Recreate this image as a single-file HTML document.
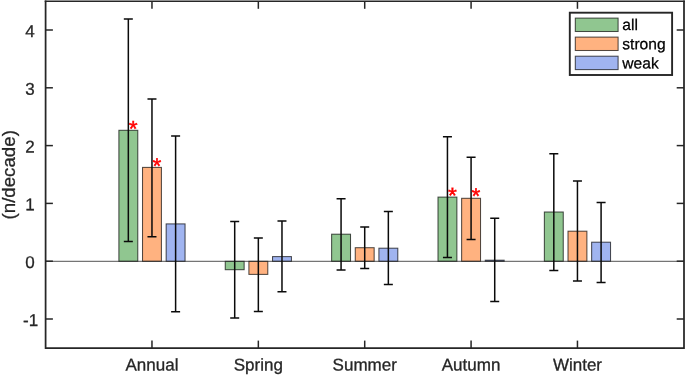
<!DOCTYPE html>
<html><head><meta charset="utf-8"><title>chart</title>
<style>
html,body{margin:0;padding:0;background:#fff;}
body{width:685px;height:375px;overflow:hidden;}
svg{display:block;}
text{font-family:"Liberation Sans","Helvetica","Arial",sans-serif;fill:#262626;}
</style></head><body>
<svg width="685" height="375" viewBox="0 0 685 375">
<rect x="0" y="0" width="685" height="375" fill="#ffffff"/>
<g stroke="#000" stroke-opacity="0.68" stroke-width="1.05">
<rect x="118.88" y="130.30" width="18.90" height="131.00" fill="#90c690"/>
<rect x="142.52" y="167.40" width="18.90" height="93.90" fill="#ffb280"/>
<rect x="166.16" y="223.90" width="18.90" height="37.40" fill="#a0b4f0"/>
<rect x="225.25" y="261.30" width="18.90" height="8.40" fill="#90c690"/>
<rect x="248.89" y="261.30" width="18.90" height="13.10" fill="#ffb280"/>
<rect x="272.53" y="256.60" width="18.90" height="4.70" fill="#a0b4f0"/>
<rect x="331.62" y="234.20" width="18.90" height="27.10" fill="#90c690"/>
<rect x="355.26" y="247.70" width="18.90" height="13.60" fill="#ffb280"/>
<rect x="378.90" y="248.20" width="18.90" height="13.10" fill="#a0b4f0"/>
<rect x="437.99" y="197.10" width="18.90" height="64.20" fill="#90c690"/>
<rect x="461.63" y="198.30" width="18.90" height="63.00" fill="#ffb280"/>
<rect x="485.27" y="260.20" width="18.90" height="1.10" fill="#a0b4f0"/>
<rect x="544.36" y="212.00" width="18.90" height="49.30" fill="#90c690"/>
<rect x="568.00" y="231.20" width="18.90" height="30.10" fill="#ffb280"/>
<rect x="591.64" y="242.20" width="18.90" height="19.10" fill="#a0b4f0"/>
</g>
<line x1="45.6" y1="261.3" x2="684.0" y2="261.3" stroke="#262626" stroke-width="0.8"/>
<g stroke="#0a0a0a" stroke-width="1.5" fill="none">
<path d="M128.33 19.10V241.60M123.83 19.10H132.83M123.83 241.60H132.83"/>
<path d="M151.97 99.10V236.70M147.47 99.10H156.47M147.47 236.70H156.47"/>
<path d="M175.61 136.00V311.85M171.11 136.00H180.11M171.11 311.85H180.11"/>
<path d="M234.70 221.40V317.90M230.20 221.40H239.20M230.20 317.90H239.20"/>
<path d="M258.34 237.90V311.40M253.84 237.90H262.84M253.84 311.40H262.84"/>
<path d="M281.98 221.10V291.65M277.48 221.10H286.48M277.48 291.65H286.48"/>
<path d="M341.07 198.80V269.90M336.57 198.80H345.57M336.57 269.90H345.57"/>
<path d="M364.71 227.05V268.40M360.21 227.05H369.21M360.21 268.40H369.21"/>
<path d="M388.35 211.40V284.50M383.85 211.40H392.85M383.85 284.50H392.85"/>
<path d="M447.44 136.70V257.50M442.94 136.70H451.94M442.94 257.50H451.94"/>
<path d="M471.08 157.20V239.50M466.58 157.20H475.58M466.58 239.50H475.58"/>
<path d="M494.72 218.30V301.60M490.22 218.30H499.22M490.22 301.60H499.22"/>
<path d="M553.81 153.80V270.50M549.31 153.80H558.31M549.31 270.50H558.31"/>
<path d="M577.45 180.90V281.05M572.95 180.90H581.95M572.95 281.05H581.95"/>
<path d="M601.09 202.50V282.50M596.59 202.50H605.59M596.59 282.50H605.59"/>
</g>
<text transform="translate(133.13,136.40) rotate(0.05)" text-anchor="middle" font-size="22.7" style="fill:#ff0000;stroke:#ff0000;stroke-width:0.45">*</text>
<text transform="translate(157.02,173.85) rotate(0.05)" text-anchor="middle" font-size="22.7" style="fill:#ff0000;stroke:#ff0000;stroke-width:0.45">*</text>
<text transform="translate(452.39,203.20) rotate(0.05)" text-anchor="middle" font-size="22.7" style="fill:#ff0000;stroke:#ff0000;stroke-width:0.45">*</text>
<text transform="translate(476.03,203.85) rotate(0.05)" text-anchor="middle" font-size="22.7" style="fill:#ff0000;stroke:#ff0000;stroke-width:0.45">*</text>
<path d="M45.6 0.3999999999999999V348.87M684.0 0.3999999999999999V348.87M44.730000000000004 348.0H684.87" fill="none" stroke="#262626" stroke-width="1.75"/>
<path d="M44.730000000000004 1.2H684.87" fill="none" stroke="#262626" stroke-width="1.6"/>
<g stroke="#262626" stroke-width="1.5">
<line x1="151.97" y1="348.0" x2="151.97" y2="340.6"/><line x1="151.97" y1="1.2" x2="151.97" y2="8.799999999999999"/>
<line x1="258.34" y1="348.0" x2="258.34" y2="340.6"/><line x1="258.34" y1="1.2" x2="258.34" y2="8.799999999999999"/>
<line x1="364.71" y1="348.0" x2="364.71" y2="340.6"/><line x1="364.71" y1="1.2" x2="364.71" y2="8.799999999999999"/>
<line x1="471.08" y1="348.0" x2="471.08" y2="340.6"/><line x1="471.08" y1="1.2" x2="471.08" y2="8.799999999999999"/>
<line x1="577.45" y1="348.0" x2="577.45" y2="340.6"/><line x1="577.45" y1="1.2" x2="577.45" y2="8.799999999999999"/>
<line x1="45.6" y1="319.00" x2="52.9" y2="319.00"/><line x1="684.0" y1="319.00" x2="676.7" y2="319.00"/>
<line x1="45.6" y1="261.20" x2="52.9" y2="261.20"/><line x1="684.0" y1="261.20" x2="676.7" y2="261.20"/>
<line x1="45.6" y1="203.40" x2="52.9" y2="203.40"/><line x1="684.0" y1="203.40" x2="676.7" y2="203.40"/>
<line x1="45.6" y1="145.60" x2="52.9" y2="145.60"/><line x1="684.0" y1="145.60" x2="676.7" y2="145.60"/>
<line x1="45.6" y1="87.80" x2="52.9" y2="87.80"/><line x1="684.0" y1="87.80" x2="676.7" y2="87.80"/>
<line x1="45.6" y1="30.00" x2="52.9" y2="30.00"/><line x1="684.0" y1="30.00" x2="676.7" y2="30.00"/>
</g>
<text transform="translate(38.10,325.90) rotate(0.05)" text-anchor="end" font-size="17.0" style="stroke:#262626;stroke-width:0.3">-1</text>
<text transform="translate(34.70,268.10) rotate(0.05)" text-anchor="end" font-size="17.0" style="stroke:#262626;stroke-width:0.3">0</text>
<text transform="translate(34.70,210.30) rotate(0.05)" text-anchor="end" font-size="17.0" style="stroke:#262626;stroke-width:0.3">1</text>
<text transform="translate(34.70,152.50) rotate(0.05)" text-anchor="end" font-size="17.0" style="stroke:#262626;stroke-width:0.3">2</text>
<text transform="translate(34.70,94.70) rotate(0.05)" text-anchor="end" font-size="17.0" style="stroke:#262626;stroke-width:0.3">3</text>
<text transform="translate(34.70,36.90) rotate(0.05)" text-anchor="end" font-size="17.0" style="stroke:#262626;stroke-width:0.3">4</text>
<text transform="translate(151.97,370.60) rotate(0.05)" text-anchor="middle" font-size="17.0" style="stroke:#262626;stroke-width:0.3">Annual</text>
<text transform="translate(258.34,370.60) rotate(0.05)" text-anchor="middle" font-size="17.0" style="stroke:#262626;stroke-width:0.3">Spring</text>
<text transform="translate(364.71,370.60) rotate(0.05)" text-anchor="middle" font-size="17.0" style="stroke:#262626;stroke-width:0.3">Summer</text>
<text transform="translate(471.08,370.60) rotate(0.05)" text-anchor="middle" font-size="17.0" style="stroke:#262626;stroke-width:0.3">Autumn</text>
<text transform="translate(577.45,370.60) rotate(0.05)" text-anchor="middle" font-size="17.0" style="stroke:#262626;stroke-width:0.3">Winter</text>
<text transform="translate(14.8,174.8) rotate(-90)" text-anchor="middle" font-size="18.7" style="stroke:#262626;stroke-width:0.3">(n/decade)</text>
<rect x="569.8" y="12.7" width="102.3" height="62.3" fill="#fff" stroke="#262626" stroke-width="1.9"/>
<g stroke="#000" stroke-opacity="0.68" stroke-width="1.05">
<rect x="575.3" y="18.1" width="42.8" height="13.4" fill="#90c690"/>
<rect x="575.3" y="37.1" width="42.8" height="13.4" fill="#ffb280"/>
<rect x="575.3" y="56.2" width="42.8" height="13.4" fill="#a0b4f0"/>
</g>
<text transform="translate(622.30,30.00) rotate(0.05)" text-anchor="start" font-size="15.6" style="fill:#000;stroke:#000;stroke-width:0.25">all</text>
<text transform="translate(622.30,49.30) rotate(0.05)" text-anchor="start" font-size="15.6" style="fill:#000;stroke:#000;stroke-width:0.25">strong</text>
<text transform="translate(622.30,68.50) rotate(0.05)" text-anchor="start" font-size="15.6" style="fill:#000;stroke:#000;stroke-width:0.25">weak</text>
</svg>
</body></html>
